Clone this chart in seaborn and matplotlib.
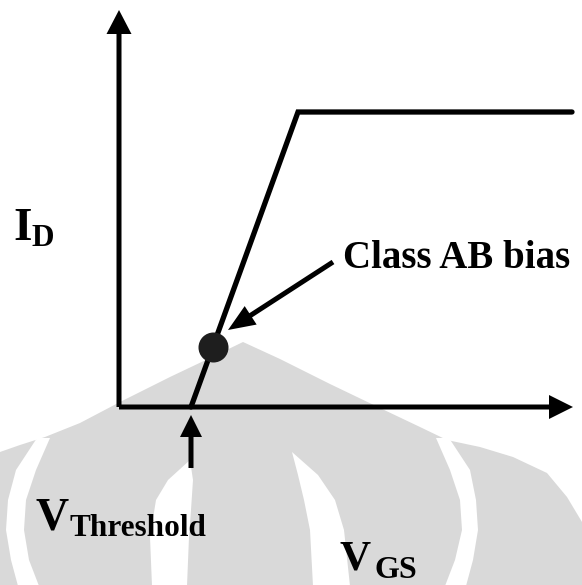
import matplotlib
matplotlib.use("Agg")
import matplotlib.pyplot as plt
import seaborn as sns
import pandas as pd

# ---- data (arbitrary units: 1 unit = 100 px in the drawing) ----
vgs_curve = [0.72, 1.79, 4.53]      # V_GS points of the idealised transfer curve
id_curve = [0.00, 2.95, 2.95]       # I_D points
v_threshold = 0.72
bias_vgs = [0.94]
bias_id = [0.60]
label_id = "I"
label_id_sub = "D"
label_vth = "V"
label_vth_sub = "Threshold"
label_vgs = "V"
label_vgs_sub = "GS"
label_bias = "Class AB bias"

sns.set_theme(style="white")
plt.rcParams['font.family'] = ['Liberation Serif', 'DejaVu Serif']

W, H = 582, 585
X0, Y0 = 119, 407  # pixel position of the origin


def P(px, py):
    return (px - X0) / 100.0, (Y0 - py) / 100.0


fig = plt.figure(figsize=(W / 100, H / 100), dpi=100)
ax = fig.add_axes([0, 0, 1, 1])
ax.set_xlim(-X0 / 100, (W - X0) / 100)
ax.set_ylim((Y0 - H) / 100, Y0 / 100)
ax.set_axis_off()

# ---- light grey watermark (background logo) ----
grey = "#d9d9d9"
env = [(0, 585), (0, 452), (20, 445), (45, 437), (80, 423), (120, 402), (170, 377),
       (210, 358), (243, 342), (280, 359), (330, 384), (380, 408), (420, 427),
       (447, 440), (480, 447), (513, 457), (547, 473), (567, 497), (582, 522), (582, 585)]
ax.fill(*zip(*[P(*p) for p in env]), color=grey, zorder=0, lw=0)

def band(left, right):
    pts = left + right[::-1]
    ax.fill(*zip(*[P(*p) for p in pts]), color="white", zorder=0.5, lw=0)

# right outer band
band([(436, 438), (450, 470), (460, 500), (462, 530), (455, 560), (445, 586)],
     [(449, 438), (470, 470), (476, 500), (478, 530), (473, 560), (466, 586)])
# left outer band
band([(37, 438), (16, 470), (8, 500), (6, 530), (11, 560), (18, 586)],
     [(50, 438), (36, 470), (26, 500), (24, 530), (29, 560), (39, 586)])
# right inner crescent
band([(292, 452), (298, 475), (304, 500), (310, 530), (313, 586)],
     [(292, 452), (318, 475), (335, 500), (344, 530), (350, 586)])
# left inner crescent
band([(190, 460), (168, 480), (156, 500), (150, 537), (152, 586)],
     [(190, 460), (193, 480), (191, 510), (189, 537), (187, 586)])

lw = 3.8
# ---- axes with arrows ----
ax.arrow(0, 0, 0, 3.97, width=0.05, head_width=0.25, head_length=0.24,
         length_includes_head=True, color="black", zorder=3, lw=0)
ax.arrow(0, 0, 4.54, 0, width=0.05, head_width=0.24, head_length=0.24,
         length_includes_head=True, color="black", zorder=3, lw=0)

# ---- transfer curve ----
df = pd.DataFrame({"VGS": vgs_curve, "ID": id_curve})
sns.lineplot(data=df, x="VGS", y="ID", ax=ax, color="black", lw=lw,
             sort=False, zorder=4, solid_joinstyle="miter")
ax.set_xlabel("")
ax.set_ylabel("")

# bias point
sns.scatterplot(x=bias_vgs, y=bias_id, ax=ax, s=20 ** 2, color="#1e1e1e",
                edgecolor="#1e1e1e", zorder=5, legend=False)

# annotation arrow for class AB bias
sx, sy = P(333, 262)
tx, ty = P(228, 330)
ax.arrow(sx, sy, tx - sx, ty - sy, width=0.05, head_width=0.22, head_length=0.27,
         length_includes_head=True, color="black", zorder=5, lw=0)

# threshold arrow
ax.arrow(v_threshold, -0.61, 0, 0.53, width=0.05, head_width=0.22, head_length=0.22,
         length_includes_head=True, color="black", zorder=5, lw=0)

# ---- labels ----
tk = dict(color="black", fontweight="bold", ha="left", va="baseline", zorder=6)
ax.text(*P(13, 240), label_id, fontsize=34, **tk)
ax.text(*P(32, 246), label_id_sub, fontsize=22.5, **tk)
ax.text(*P(35, 530), label_vth, fontsize=33, **tk)
ax.text(*P(70, 536), label_vth_sub, fontsize=22.5, **tk)
ax.text(*P(340, 570), label_vgs, fontsize=31, **tk)
ax.text(*P(375, 578), label_vgs_sub, fontsize=23, **tk)
ax.text(*P(343, 268), label_bias, fontsize=28, **tk)

fig.savefig("out.png", dpi=100)
